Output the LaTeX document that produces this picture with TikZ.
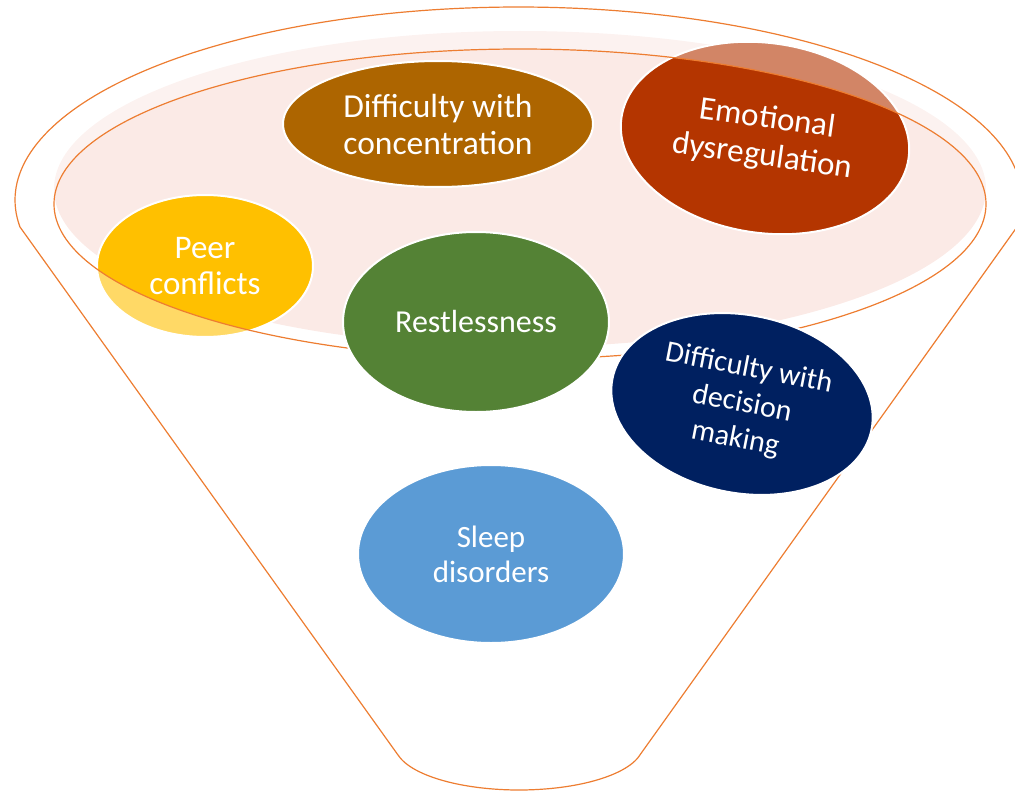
\documentclass[tikz,border=0pt]{standalone}
\usepackage{fontspec}
\setmainfont{Carlito}
\usetikzlibrary{shapes.geometric}

\definecolor{funnelorange}{HTML}{ED7D31}
\definecolor{rimpink}{HTML}{FBEAE6}
\definecolor{concbrown}{HTML}{AD6500}
\definecolor{emored}{HTML}{B43500}
\definecolor{peeryellow}{HTML}{FFC000}
\definecolor{restgreen}{HTML}{548235}
\definecolor{decnavy}{HTML}{002060}
\definecolor{sleepblue}{HTML}{5B9BD5}

\begin{document}
\begin{tikzpicture}[x=1pt,y=-1pt,
  bubble/.style={ellipse, draw=white, line width=2pt, text=white,
                 inner sep=0pt, align=center},
  outline/.style={draw=funnelorange, line width=1.2pt, line join=round}]
\useasboundingbox (0,0) rectangle (1015,792);

% corners of the funnel body
\coordinate (lefttop)   at (20,227);
\coordinate (leftfoot)  at (398,755);
\coordinate (rightfoot) at (640,755);
\coordinate (righttop)  at (1017,227);

% pale band inside the opening
\fill[rimpink] (520,189) ellipse [x radius=466, y radius=158];

% bubbles that sit partly behind the funnel wall
\node[bubble, fill=concbrown, minimum width=310pt, minimum height=126pt,
      font=\fontsize{33.5}{37}\selectfont]
  (conc) at (438,124) {Difficulty with\\concentration};
\node[bubble, fill=peeryellow, minimum width=216pt, minimum height=142pt,
      font=\fontsize{33}{36}\selectfont]
  (peer) at (205,266) {Peer\\conflicts};
\node[bubble, fill=emored, minimum width=290pt, minimum height=190pt, rotate=-8,
      font=\fontsize{33}{38}\selectfont]
  (emo) at (765,138) {Emotional\\dysregulation};

% translucent funnel wall, with the opening left clear
\fill[white, fill opacity=0.4, even odd rule]
  (lefttop) -- (leftfoot)
  -- plot[domain=12.8:167.2, samples=60, variable=\s] ({519-124*cos(\s)}, {745+45*sin(\s)})
  -- (righttop)
  -- plot[domain=-8:188, samples=150, variable=\t] ({518.5+503.5*cos(\t)}, {200-193*sin(\t)})
  -- cycle
  (520,204) ellipse [x radius=466, y radius=155];

% funnel outline and rim of the opening
\draw[outline]
  (lefttop) -- (leftfoot)
  -- plot[domain=12.8:167.2, samples=60, variable=\s] ({519-124*cos(\s)}, {745+45*sin(\s)})
  -- (righttop)
  -- plot[domain=-8:188, samples=150, variable=\t] ({518.5+503.5*cos(\t)}, {200-193*sin(\t)})
  -- cycle;
\draw[outline] (520,204) ellipse [x radius=466, y radius=155];

% bubbles in front of the funnel
\node[bubble, fill=restgreen, minimum width=266pt, minimum height=180pt,
      font=\fontsize{32}{36}\selectfont]
  (rest) at (476,322) {Restlessness};
\node[bubble, fill=decnavy, minimum width=264pt, minimum height=178pt, rotate=-11,
      font=\fontsize{30}{36}\selectfont]
  (dec) at (742,404) {Difficulty with\\decision\\making};
\node[bubble, fill=sleepblue, minimum width=266pt, minimum height=178pt,
      font=\fontsize{31}{35}\selectfont]
  (sleep) at (491,554) {Sleep\\disorders};
\end{tikzpicture}
\end{document}
